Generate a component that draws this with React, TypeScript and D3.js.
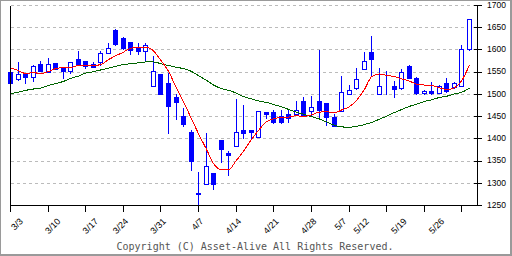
import React from 'react';
import * as d3 from 'd3';

const dates = [
  '3/3','3/4','3/5','3/6','3/7',
  '3/10','3/11','3/12','3/13','3/14',
  '3/17','3/18','3/19','3/20',
  '3/24','3/25','3/26','3/27','3/28',
  '3/31','4/1','4/2','4/3','4/4',
  '4/7','4/8','4/9','4/10','4/11',
  '4/14','4/15','4/16','4/17','4/18',
  '4/21','4/22','4/23','4/24','4/25',
  '4/28','4/30','5/1','5/2',
  '5/7','5/8','5/9',
  '5/12','5/13','5/14','5/15','5/16',
  '5/19','5/20','5/21','5/22','5/23',
  '5/26','5/27','5/28','5/29','5/30',
  '6/2',
];

const opens = [
  1551,1534,1545,1540,1568,1551,1570,1561,1553,1579,
  1575,1568,1572,1594,1646,1628,1617,1605,1598,1519,
  1546,1526,1495,1451,1416,1279,1298,1323,1398,1369,
  1383,1419,1420,1404,1460,1460,1451,1456,1457,1485,
  1463,1485,1480,1449,1462,1500,1514,1558,1595,1500,
  1501,1519,1514,1563,1538,1502,1507,1502,1525,1516,
  1520,1601,
];
const highs = [
  1551,1572,1549,1566,1575,1581,1571,1561,1572,1597,
  1575,1573,1598,1616,1647,1629,1617,1616,1616,1586,
  1546,1547,1501,1469,1419,1326,1413,1323,1398,1373,
  1490,1476,1421,1463,1461,1465,1465,1466,1485,1493,
  1496,1599,1481,1456,1541,1521,1560,1595,1631,1559,
  1553,1531,1556,1566,1539,1511,1528,1521,1538,1528,
  1610,1670,
];
const lows = [
  1526,1533,1525,1530,1552,1550,1557,1537,1549,1568,
  1560,1561,1566,1594,1612,1603,1592,1590,1577,1519,
  1500,1414,1444,1429,1331,1252,1298,1287,1348,1319,
  1383,1402,1402,1404,1446,1436,1436,1437,1456,1453,
  1454,1445,1431,1428,1462,1500,1513,1558,1543,1500,
  1501,1495,1513,1538,1501,1500,1500,1502,1506,1515,
  1520,1600,
];
const closes = [
  1526,1546,1539,1565,1553,1569,1558,1553,1572,1569,
  1564,1562,1594,1605,1613,1604,1599,1597,1610,1552,
  1501,1474,1483,1434,1351,1275,1338,1299,1377,1364,
  1416,1414,1416,1463,1457,1437,1437,1446,1466,1454,
  1471,1465,1449,1429,1505,1511,1534,1575,1580,1518,
  1501,1513,1551,1538,1502,1507,1504,1520,1507,1525,
  1601,1670,
];

const ma5 = [
  1560,1554,1547,1549,1547,1551,1558,1560,1560,1565,
  1565,1565,1567,1578,1587,1595,1604,1606,1606,1598,
  1576,1552,1516,1483,1447,1411,1378,1344,1331,1331,
  1351,1373,1398,1420,1438,1445,1449,1449,1452,1450,
  1454,1460,1461,1458,1465,1472,1487,1510,1540,1546,
  1543,1540,1535,1530,1523,1521,1520,1515,1511,1515,
  1532,1566,
];
const ma25 = [
  1501,1505,1509,1512,1514,1520,1524,1529,1536,1541,
  1548,1551,1555,1559,1563,1567,1569,1571,1573,1573,
  1569,1565,1561,1558,1552,1542,1532,1521,1513,1509,
  1503,1495,1490,1485,1482,1477,1472,1466,1460,1455,
  1450,1445,1438,1431,1427,1426,1428,1432,1437,1444,
  1451,1459,1466,1473,1478,1484,1488,1493,1496,1501,
  1505,1514,
];

const yTicks = [1250, 1300, 1350, 1400, 1450, 1500, 1550, 1600, 1650, 1700];
const gridValues = [1300, 1350, 1400, 1450, 1500, 1550, 1600, 1650, 1700];
const xLabels = ['3/3','3/10','3/17','3/24','3/31','4/7','4/14','4/21','4/28','5/7','5/12','5/19','5/26'];
const copyright = 'Copyright (C) Asset-Alive All Rights Reserved.';

const W = 512;
const H = 256;
const BLUE = '#0000ff';

export default function App() {
  const x = d3.scalePoint<string>().domain(dates).range([10.5, 10.5 + 7.5246 * (dates.length - 1)]);
  const y = d3.scaleLinear().domain([1250, 1700]).range([205.5, 5.5]);
  const px = (d: string) => Math.floor(x(d) as number);

  const left = 10.5;
  const right = 477.5;
  const top = 5.5;
  const bottom = 205.5;

  const tickIdx = dates.map((_, i) => i).filter((i) => i % 5 === 0);

  const lineGen = (vals: number[]) =>
    d3
      .line<number>()
      .x((_, i) => x(dates[i]) as number)
      .y((v) => y(v))
      .curve(d3.curveMonotoneX)(vals) || '';

  return (
    <svg
      width={W}
      height={H}
      style={{ position: 'absolute', left: 0, top: 0, background: '#fff' }}
      shapeRendering="crispEdges"
    >
      <rect x={0} y={0} width={W} height={H} fill="#fff" />
      {/* frame */}
      <rect x={0.5} y={0.5} width={510} height={254} fill="none" stroke="#9a9a9a" />
      <line x1={511.5} y1={0} x2={511.5} y2={256} stroke="#9a9a9a" />
      <line x1={0} y1={255.5} x2={512} y2={255.5} stroke="#9a9a9a" />

      {/* grid */}
      {gridValues.map((v) => (
        <line
          key={'g' + v}
          x1={left}
          x2={right}
          y1={Math.round(y(v) - 0.5) + 0.5}
          y2={Math.round(y(v) - 0.5) + 0.5}
          stroke="#bbbbbb"
          strokeDasharray="3,3"
        />
      ))}

      {/* candles */}
      {dates.map((d, i) => {
        const o = opens[i];
        const c = closes[i];
        const cx = px(d);
        const yHi = Math.round(y(highs[i]));
        const yLo = Math.round(y(lows[i]));
        const bTop = Math.round(y(Math.max(o, c)));
        const bBot = Math.round(y(Math.min(o, c)));
        const up = c >= o;
        return (
          <g key={'c' + i}>
            <line x1={cx + 0.5} x2={cx + 0.5} y1={yHi} y2={yLo + 1} stroke={BLUE} />
            {up ? (
              <rect
                x={cx - 1.5}
                y={bTop + 0.5}
                width={4}
                height={Math.max(0, bBot - bTop)}
                fill="#fff"
                stroke={BLUE}
              />
            ) : (
              <rect x={cx - 2} y={bTop} width={5} height={Math.max(1, bBot - bTop + 1)} fill={BLUE} />
            )}
          </g>
        );
      })}

      {/* moving averages */}
      <g shapeRendering="crispEdges">
        <path d={lineGen(ma25)} fill="none" stroke="#006400" strokeWidth={1} />
        <path d={lineGen(ma5)} fill="none" stroke="#ff0000" strokeWidth={1} />
      </g>

      {/* axes */}
      <line x1={left} x2={left} y1={top} y2={bottom} stroke="#000" />
      <line x1={right} x2={right} y1={top} y2={bottom} stroke="#000" />
      <line x1={left} x2={right} y1={bottom} y2={bottom} stroke="#000" />

      {tickIdx.map((i) => (
        <line
          key={'xt' + i}
          x1={px(dates[i]) + 0.5}
          x2={px(dates[i]) + 0.5}
          y1={bottom}
          y2={bottom + 6}
          stroke="#000"
        />
      ))}

      {xLabels.map((lab) => {
        const xx = (x(lab) as number) + 13;
        const yy = 222;
        return (
          <text
            key={'xl' + lab}
            transform={`translate(${xx},${yy}) rotate(-45)`}
            textAnchor="end"
            fontFamily="Liberation Sans, Arial, sans-serif"
            fontSize={9}
            fill="#000"
          >
            {lab}
          </text>
        );
      })}

      {yTicks.map((v) => (
        <g key={'yt' + v}>
          <line x1={right - 4} x2={right + 4} y1={Math.round(y(v) - 0.5) + 0.5} y2={Math.round(y(v) - 0.5) + 0.5} stroke="#000" />
          <text
            x={487}
            y={y(v)}
            dominantBaseline="middle"
            fontFamily="Liberation Sans, Arial, sans-serif"
            fontSize={8.5}
            fill="#000"
          >
            {v}
          </text>
        </g>
      ))}

      <text
        x={255}
        y={250}
        textAnchor="middle"
        fontFamily="DejaVu Sans Mono, monospace"
        fontSize={10}
        fill="#555"
      >
        {copyright}
      </text>
    </svg>
  );
}
